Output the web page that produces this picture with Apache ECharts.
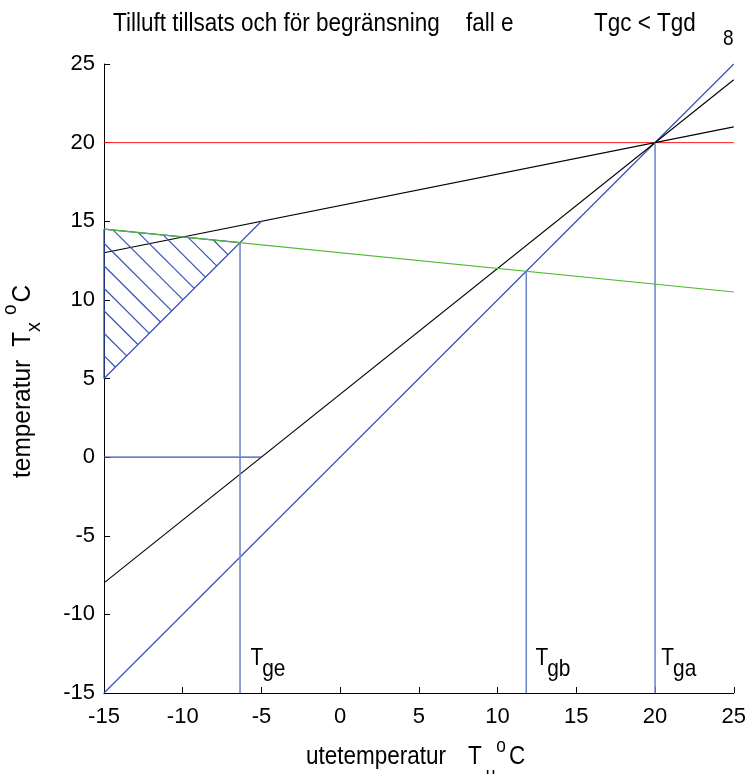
<!DOCTYPE html>
<html><head><meta charset="utf-8">
<script src="https://cdn.jsdelivr.net/npm/echarts@6/dist/echarts.min.js"></script>
<style>html,body{margin:0;padding:0;background:#fff}#c{width:749px;height:774px}</style>
</head><body><div id="c"></div>
<script>
// ---- data ----
const xTicks = [-15, -10, -5, 0, 5, 10, 15, 20, 25];
const yTicks = [-15, -10, -5, 0, 5, 10, 15, 20, 25];
const redLine = [[-15, 20], [25, 20]];
const blueDiag = [[-15, -15], [25, 25]];
const blackSteep = [[-15, -8], [25, 24]];
const blackShallow = [[-15, 13], [25, 21]];
const greenLine = [[-15, 14.5], [25, 10.5]];
const blueShort = [[-15, 5], [-5, 15]];
const blueZero = [[-15, 0], [-5, 0]];
const blueLeftEdge = [[-15, 5], [-15, 14.5]];
const blueTopEdge = [[-15, 14.5], [-6.36, 13.64]];
const vertTge = [[-6.36, -15], [-6.36, 13.64]];
const vertTgb = [[11.82, -15], [11.82, 11.82]];
const vertTga = [[20, -15], [20, 20]];
const hatchStart = [[-15, 6.45], [-15, 7.88], [-15, 9.31], [-15, 10.74], [-15, 12.17], [-15, 13.60],
  [-14.41, 14.44], [-12.82, 14.28], [-11.23, 14.12], [-9.64, 13.96], [-8.06, 13.81]];
const hatchEnd = [[-14.28, 5.73], [-13.56, 6.44], [-12.85, 7.16], [-12.13, 7.87], [-11.42, 8.59], [-10.70, 9.30],
  [-9.99, 10.02], [-9.27, 10.73], [-8.56, 11.45], [-7.84, 12.16], [-7.13, 12.88]];
const tLabelSubs = ['ge', 'gb', 'ga'];
const tLabelX = [-5.7, 12.4, 20.4];
const tLabelY = -12.77;
const titleParts = ['Tilluft tillsats och för begränsning', 'fall e', 'Tgc < Tgd', '8'];

// ---- styling ----
const FAM = "'Liberation Sans', Arial, sans-serif";
const BLUE = '#3453b8';
const BLUE_V = '#7088cc';

const chart = echarts.init(document.getElementById('c'), null, {renderer: 'canvas'});

function seg(data, color, w, z) {
  return {type: 'line', data: data, symbol: 'none', clip: false, silent: true,
    lineStyle: {color: color, width: w}, z: z || 2, animation: false};
}

const series = [
  seg(redLine, '#ff1a1a', 1),
  seg(blueDiag, BLUE, 1.2),
  seg(blackSteep, '#000000', 1.1),
  seg(blackShallow, '#000000', 1.1),
  seg(blueTopEdge, BLUE, 1.2),
  seg(greenLine, '#52b832', 1.1, 3),
  seg(blueShort, BLUE, 1.2),
  seg(blueZero, BLUE, 1.2),
  seg(blueLeftEdge, BLUE, 1.3, 4),
  seg(vertTge, BLUE_V, 1.6),
  seg(vertTgb, BLUE_V, 1.6),
  seg(vertTga, BLUE_V, 1.6)
];
for (let i = 0; i < hatchStart.length; i++) {
  series.push(seg([hatchStart[i], hatchEnd[i]], BLUE, 1.2));
}

function axisCfg(margin) {
  return {
    type: 'value', min: xTicks[0], max: xTicks[xTicks.length - 1], interval: xTicks[1] - xTicks[0],
    axisLine: {show: true, onZero: false, lineStyle: {color: '#000', width: 1}},
    axisTick: {show: true, inside: true, length: 6, lineStyle: {color: '#000'}},
    splitLine: {show: false},
    axisLabel: {color: '#000', fontSize: 22, fontFamily: FAM, margin: margin}
  };
}
const yCfg = axisCfg(9);
yCfg.min = yTicks[0]; yCfg.max = yTicks[yTicks.length - 1]; yCfg.interval = yTicks[1] - yTicks[0];

chart.setOption({
  animation: false,
  backgroundColor: '#fff',
  grid: {left: 104, top: 64, width: 632, height: 629, containLabel: false},
  xAxis: axisCfg(13),
  yAxis: yCfg,
  series: series
});

// ---- text helpers ----
const mctx = document.createElement('canvas').getContext('2d');
function measure(t, size) { mctx.font = size + 'px ' + FAM; return mctx.measureText(t).width; }

// parts: [text, fontSize, dy(center offset, px, +down), gapBefore]
function composite(parts, x0, y0, rot, sx, out) {
  const ax = Math.cos(rot), ay = -Math.sin(rot);
  const dx = Math.sin(rot), dyv = Math.cos(rot);
  let along = 0;
  parts.forEach(function (p) {
    along += (p[3] || 0);
    out.push({type: 'text', silent: true, rotation: rot, scaleX: sx, scaleY: 1,
      x: x0 + ax * along + dx * p[2], y: y0 + ay * along + dyv * p[2],
      style: {text: p[0], fontSize: p[1], fontFamily: FAM, fill: '#000', textAlign: 'left', textVerticalAlign: 'middle'}});
    along += measure(p[0], p[1]) * sx;
  });
}

const graphics = [];
const titleX = [113, 466, 594, 723];
const titleY = [24, 24, 24, 39];
titleParts.forEach(function (t, i) {
  graphics.push({type: 'text', x: titleX[i], y: titleY[i], silent: true, scaleX: 0.865,
    style: {text: t, fontSize: i === 3 ? 22 : 26, fontFamily: FAM, fill: '#000', textAlign: 'left', textVerticalAlign: 'middle'}});
});
// x axis name
composite([['utetemperatur', 26, 0, 0], ['T', 26, 0, 22], ['u', 20, 18, 4], ['o', 20, -11, 1], ['C', 26, 0, 3]],
  306, 757, 0, 0.865, graphics);
// y axis name (rotated)
composite([['temperatur', 26, 0, 0], ['T', 26, 0, 13], ['x', 21, 11, 0], ['o', 20, -13, 7], ['C', 26, 0, 2]],
  23, 478, Math.PI / 2, 0.94, graphics);
// T labels
tLabelSubs.forEach(function (s, i) {
  const p = chart.convertToPixel({gridIndex: 0}, [tLabelX[i], tLabelY]);
  composite([['T', 24, 0, 0], ['' + s, 24, 11, -1]], p[0], p[1], 0, 0.87, graphics);
});
chart.setOption({graphic: graphics});
</script>
</body></html>
